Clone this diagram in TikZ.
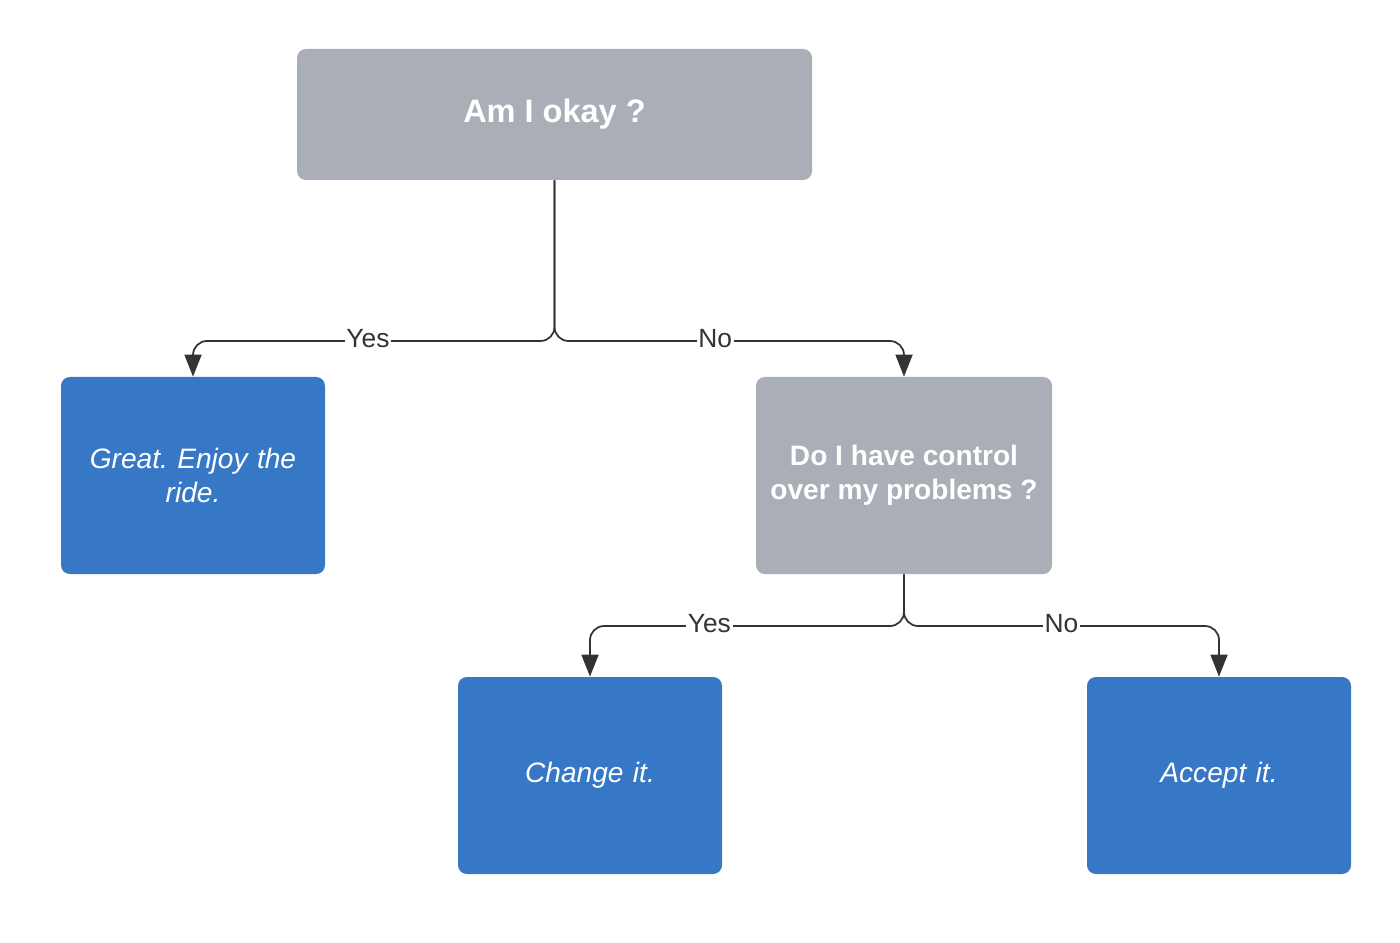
\documentclass[tikz,border=0pt]{standalone}
\usepackage{fontspec}
\setmainfont{Liberation Sans}
\usepackage{tikz}
\usetikzlibrary{arrows.meta,positioning}
\definecolor{qgray}{HTML}{A9AEB7}
\definecolor{ablue}{HTML}{3778C6}
\definecolor{lnk}{HTML}{333333}
\frenchspacing

\begin{document}
\begin{tikzpicture}[
    question/.style={fill=qgray, rounded corners=5pt, align=center, text=white, font=\bfseries\fontsize{16}{19.5}\selectfont, minimum width=5.92cm, minimum height=3.94cm},
    answer/.style={fill=ablue, rounded corners=5pt, align=center, text=white, font=\itshape\fontsize{16}{19.5}\selectfont, minimum width=5.28cm, minimum height=3.94cm, text width=4.6cm},
    arrow/.style={-{Triangle[length=4.4mm, width=3.4mm]}, draw=lnk, line width=1pt, rounded corners=8pt},
    lbl/.style={fill=white, text=lnk, inner sep=1pt, sharp corners, yshift=1.5pt, font=\fontsize{15}{18}\selectfont}
  ]
    \useasboundingbox (0,0) rectangle (28,-18.86);
    \node[question, minimum width=10.3cm, minimum height=2.62cm, font=\bfseries\fontsize{18.5}{22}\selectfont] (okay) at (11.09,-2.29) {Am I okay ?};
    \node[answer] (great) at (3.86,-9.51) {Great. Enjoy the\\ride.};
    \node[question] (control) at (18.08,-9.51) {Do I have control\\over my problems ?};
    \node[answer] (change) at (11.8,-15.51) {Change it.};
    \node[answer] (accept) at (24.38,-15.51) {Accept it.};
    \coordinate (split1) at (11.09,-6.82);
    \coordinate (split2) at (18.08,-12.52);
    \draw[arrow] (okay.south) |- node[lbl, pos=0.758] {Yes} (split1 -| great.north) -- (great.north);
    \draw[arrow] (okay.south) |- node[lbl, pos=0.73] {No} (split1 -| control.north) -- (control.north);
    \draw[arrow] (control.south) |- node[lbl, pos=0.81] {Yes} (split2 -| change.north) -- (change.north);
    \draw[arrow] (control.south) |- node[lbl, pos=0.75] {No} (split2 -| accept.north) -- (accept.north);
  \end{tikzpicture}
\end{document}
